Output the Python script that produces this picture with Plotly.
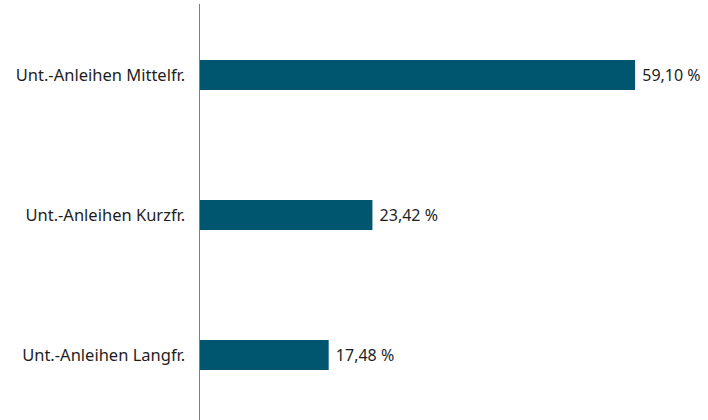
import plotly.graph_objects as go

categories = ["Unt.-Anleihen Mittelfr.", "Unt.-Anleihen Kurzfr.", "Unt.-Anleihen Langfr."]
values = [59.10, 23.42, 17.48]
labels = ["\u00a0" + f"{v:.2f}".replace(".", ",") + " %" for v in values]

fig = go.Figure(go.Bar(
    y=categories, x=values, orientation="h",
    marker=dict(color="#00566f", line=dict(width=0)),
    width=0.215,
    text=labels, textposition="outside", cliponaxis=False,
    textfont=dict(family="Noto Sans", size=16, color="#1e1e1e"),
    hoverinfo="skip",
))

fig.update_layout(
    width=708, height=420,
    margin=dict(l=200, r=0, t=4, b=0),
    paper_bgcolor="white", plot_bgcolor="white",
    showlegend=False,
    font=dict(family="Noto Sans", size=16.5, color="#1e1e1e"),
    xaxis=dict(range=[0, 69.0], visible=False, showgrid=False, zeroline=False),
    yaxis=dict(
        categoryorder="array", categoryarray=categories,
        range=[2.464, -0.507], autorange=False,
        showline=True, linecolor="#7f7f7f", linewidth=1.5,
        showgrid=False, zeroline=False, ticks="", ticklabelstandoff=10,
    ),
)

fig.write_html(
    "out.html",
    config={"displayModeBar": False, "staticPlot": True},
    post_script="document.body.style.margin='0';document.body.style.overflow='hidden';",
)
